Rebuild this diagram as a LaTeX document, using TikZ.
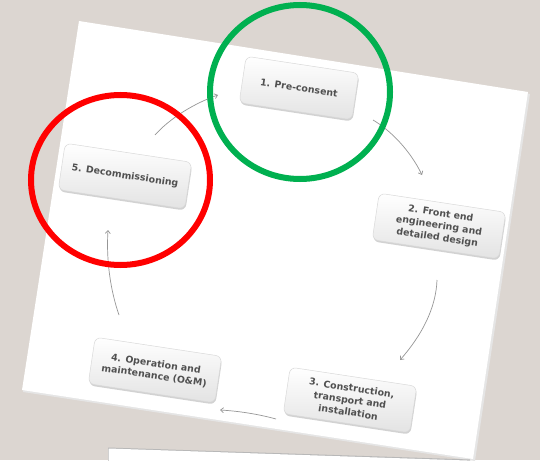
\documentclass[tikz,border=0pt]{standalone}
\usepackage{fontspec}
\setmainfont{DejaVu Sans}
\usetikzlibrary{shadows,arrows.meta}
\definecolor{bg}{RGB}{220,214,209}
\definecolor{txt}{RGB}{80,80,80}
\definecolor{grn}{RGB}{0,176,80}
\definecolor{arr}{RGB}{150,150,150}
\begin{document}
\begin{tikzpicture}[x=1pt,y=-1pt,
  stage/.style={rounded corners=6pt, draw=black!15, line width=0.5pt,
    top color=white, bottom color=black!11,
    drop shadow={shadow xshift=0.6pt, shadow yshift=-1.8pt, opacity=0.35},
    rotate=-8.6, minimum height=47pt, minimum width=128pt, align=center,
    text=txt, font=\bfseries\fontsize{9.4}{12.2}\selectfont, inner sep=2pt},
  flow/.style={draw=arr, line width=0.7pt, -{Straight Barb[length=3pt,width=5pt]}},
  ring/.style={line width=6pt}]
\useasboundingbox (0,0) rectangle (540,460);
\fill[bg] (0,0) rectangle (540,460);
% main sheet
\fill[black!10] (80,23) -- (530,94) -- (475,461) -- (23,392) -- cycle;
\fill[white] (79,21) -- (528,92) -- (473,459) -- (22,390) -- cycle;
% second sheet
\fill[black!28] (108,447.5) -- (470,459.5) -- (470,461) -- (108,461) -- cycle;
\fill[white] (108.5,448.5) -- (470,460.6) -- (470,461) -- (108.5,461) -- cycle;
% stages
\node[stage, minimum width=114pt] (n1) at (299,88) {1. Pre-consent};
\node[stage] (n2) at (439,226) {2. Front end\\engineering and\\detailed design};
\node[stage] (n3) at (350,400) {3. Construction,\\transport and\\installation};
\node[stage] (n4) at (155,370) {4. Operation and\\maintenance (O\&M)};
\node[stage] (n5) at (125,176) {5. Decommissioning};
% arrow ends
\coordinate (s51) at (155,135); \coordinate (e51) at (218,95);
\coordinate (s12) at (373,120); \coordinate (e12) at (422,175);
\coordinate (s23) at (437,280); \coordinate (e23) at (400,360);
\coordinate (s34) at (276,419); \coordinate (e34) at (220,410);
\coordinate (s45) at (119,315); \coordinate (e45) at (108,230);
\draw[flow] (s51) .. controls (170,118) and (195,103) .. (e51);
\draw[flow] (s12) .. controls (390,130) and (410,150) .. (e12);
\draw[flow] (s23) .. controls (436,308) and (422,335) .. (e23);
\draw[flow] (s34) .. controls (258,414) and (238,411) .. (e34);
\draw[flow] (s45) .. controls (111,292) and (106,262) .. (e45);
% highlight rings
\draw[ring, grn] (300,92) ellipse [x radius=90, y radius=87];
\draw[ring, red] (120.5,180) ellipse [x radius=89.5, y radius=85];
\end{tikzpicture}
\end{document}
